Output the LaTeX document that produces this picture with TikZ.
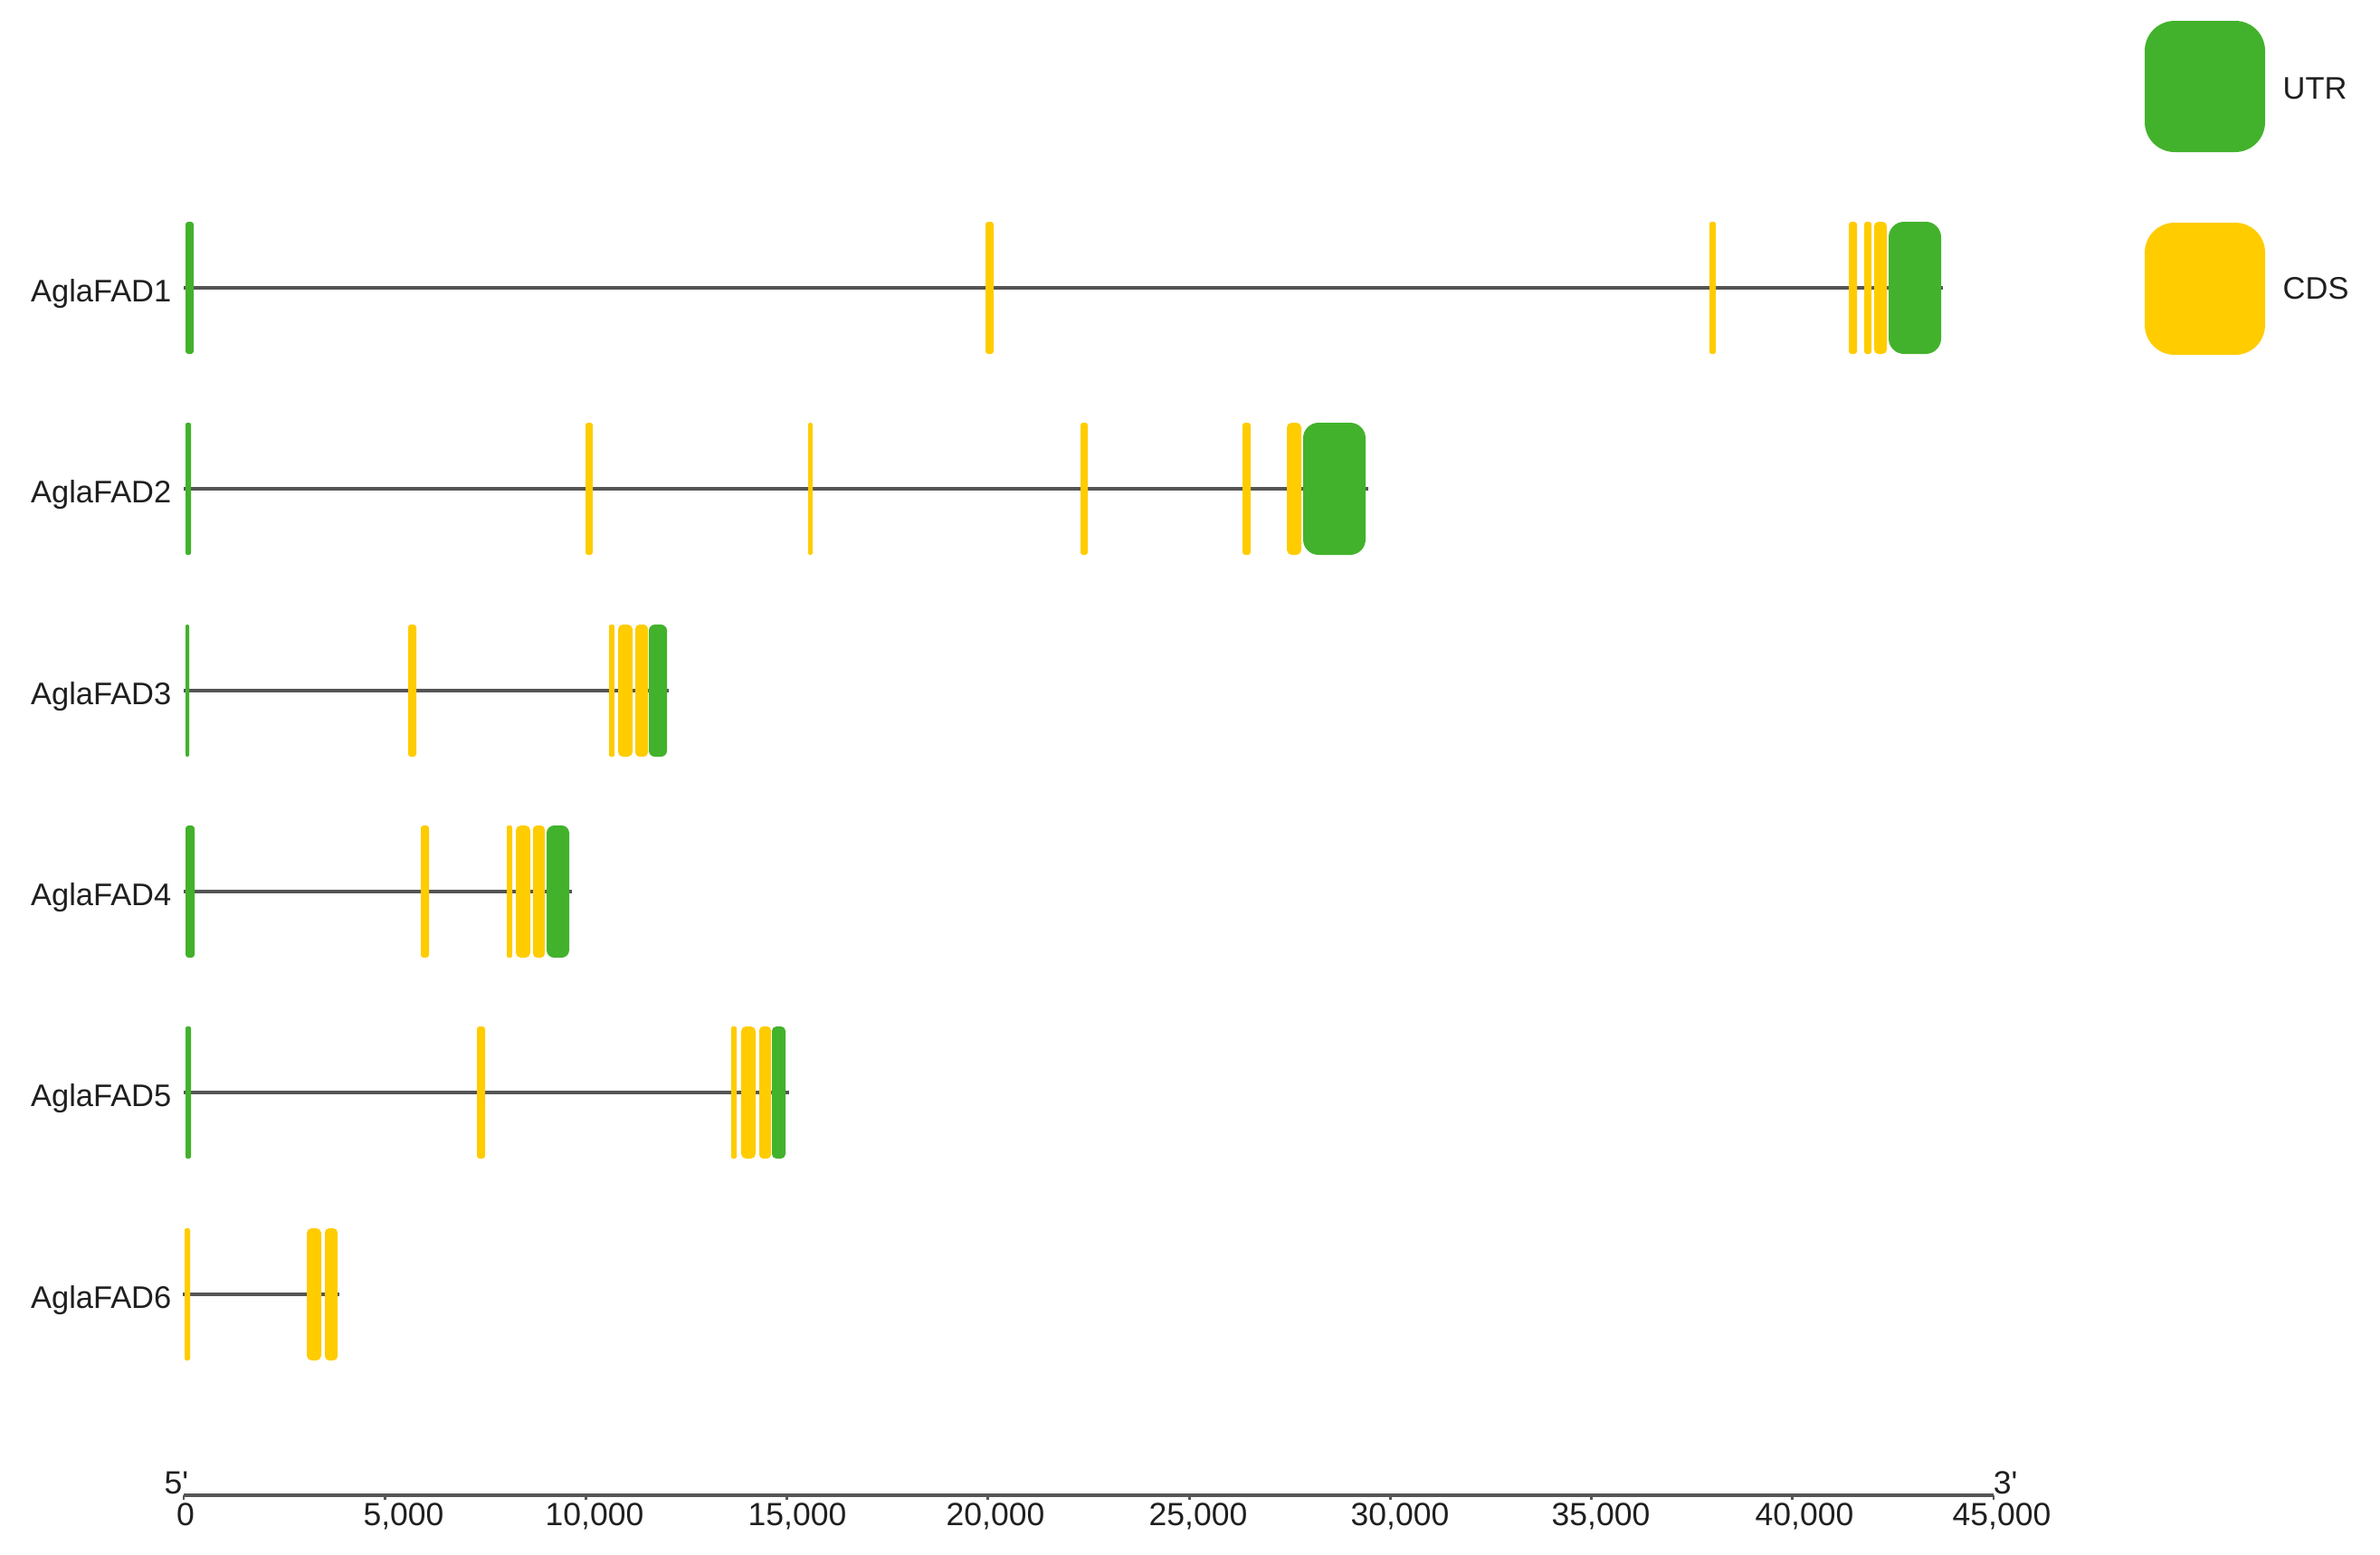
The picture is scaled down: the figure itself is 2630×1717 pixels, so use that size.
\documentclass[tikz,border=0pt]{standalone}
\usepackage{fontspec}
\setmainfont{Liberation Sans}
\newfontfamily\rawfont{Liberation Sans}[Ligatures=TeXOff]
\definecolor{utrgreen}{HTML}{42B22C}
\definecolor{cdsyellow}{HTML}{FFCC00}
\definecolor{bbgray}{HTML}{555555}
\tikzset{
  backbone/.style={draw=bbgray, line width=1.2pt},
  genelabel/.style={anchor=base east, inner sep=0pt, text=black!88, font=\fontsize{9.8}{12}\selectfont},
  ticklabel/.style={anchor=base, inner sep=0pt, text=black!88, font=\fontsize{10.1}{12}\selectfont},
  legendlabel/.style={anchor=base west, inner sep=0pt, text=black!88, font=\fontsize{9.8}{12}\selectfont},
}
\newcommand\exonbox[4]{%
  \pgfmathsetmacro\exr{min(17,(#3-#2)/3)*0.28453}%
  \fill[#1, rounded corners=\exr pt] (#2,#4-73) rectangle (#3,#4+73);}
\begin{document}
\begin{tikzpicture}[x=0.01cm,y=-0.01cm]
\useasboundingbox (0,0) rectangle (2630,1717);
% ---------- row 1
\node[genelabel] (g1) at (190,333) {AglaFAD1};
\draw[backbone] (203,318) -- (2147,318);
\exonbox{utrgreen}{205}{214}{318}
\exonbox{cdsyellow}{1089}{1098}{318}
\exonbox{cdsyellow}{1889}{1896}{318}
\exonbox{cdsyellow}{2043}{2052}{318}
\exonbox{cdsyellow}{2060}{2068}{318}
\exonbox{cdsyellow}{2071}{2085}{318}
\exonbox{utrgreen}{2087}{2145}{318}
% ---------- row 2
\node[genelabel] (g2) at (190,555) {AglaFAD2};
\draw[backbone] (203,540) -- (1512,540);
\exonbox{utrgreen}{205}{211}{540}
\exonbox{cdsyellow}{647}{655}{540}
\exonbox{cdsyellow}{893}{898}{540}
\exonbox{cdsyellow}{1194}{1202}{540}
\exonbox{cdsyellow}{1373}{1382}{540}
\exonbox{cdsyellow}{1422}{1438}{540}
\exonbox{utrgreen}{1440}{1509}{540}
% ---------- row 3
\node[genelabel] (g3) at (190,778) {AglaFAD3};
\draw[backbone] (203,763) -- (739,763);
\exonbox{utrgreen}{205}{209}{763}
\exonbox{cdsyellow}{451}{460}{763}
\exonbox{cdsyellow}{673}{679}{763}
\exonbox{cdsyellow}{683}{699}{763}
\exonbox{cdsyellow}{702}{716}{763}
\exonbox{utrgreen}{717}{737}{763}
% ---------- row 4
\node[genelabel] (g4) at (190,1000) {AglaFAD4};
\draw[backbone] (203,985) -- (632,985);
\exonbox{utrgreen}{205}{215}{985}
\exonbox{cdsyellow}{465}{474}{985}
\exonbox{cdsyellow}{560}{566}{985}
\exonbox{cdsyellow}{570}{586}{985}
\exonbox{cdsyellow}{589}{602}{985}
\exonbox{utrgreen}{604}{629}{985}
% ---------- row 5
\node[genelabel] (g5) at (190,1222) {AglaFAD5};
\draw[backbone] (203,1207) -- (872,1207);
\exonbox{utrgreen}{205}{211}{1207}
\exonbox{cdsyellow}{527}{536}{1207}
\exonbox{cdsyellow}{808}{814}{1207}
\exonbox{cdsyellow}{819}{835}{1207}
\exonbox{cdsyellow}{839}{852}{1207}
\exonbox{utrgreen}{853}{868}{1207}
% ---------- row 6
\node[genelabel] (g6) at (190,1445) {AglaFAD6};
\draw[backbone] (202,1430) -- (375,1430);
\exonbox{cdsyellow}{204}{210}{1430}
\exonbox{cdsyellow}{339}{355}{1430}
\exonbox{cdsyellow}{359}{373}{1430}
% ---------- legend
\fill[utrgreen, rounded corners=9.4pt] (2370,23) rectangle (2503,168);
\node[legendlabel] (lu) at (2522,109) {UTR};
\fill[cdsyellow, rounded corners=9.4pt] (2370,246) rectangle (2503,392);
\node[legendlabel] (lc) at (2522,330) {CDS};
% ---------- axis
\draw[backbone] (203,1652) -- (2203,1652);
\foreach \i in {0,...,9} \draw[bbgray, line width=0.8pt] (203+222.22*\i,1652) -- ++(0,5);
\node[ticklabel] (t0) at (205,1685) {0};
\node[ticklabel] (t1) at (446,1685) {5,000};
\node[ticklabel] (t2) at (657,1685) {10,000};
\node[ticklabel] (t3) at (881,1685) {15,000};
\node[ticklabel] (t4) at (1100,1685) {20,000};
\node[ticklabel] (t5) at (1324,1685) {25,000};
\node[ticklabel] (t6) at (1547,1685) {30,000};
\node[ticklabel] (t7) at (1769,1685) {35,000};
\node[ticklabel] (t8) at (1994,1685) {40,000};
\node[ticklabel] (t9) at (2212,1685) {45,000};
\node[ticklabel] (p5) at (195,1650) {\rawfont 5'};
\node[ticklabel] (p3) at (2216,1650) {\rawfont 3'};
\end{tikzpicture}
\end{document}
